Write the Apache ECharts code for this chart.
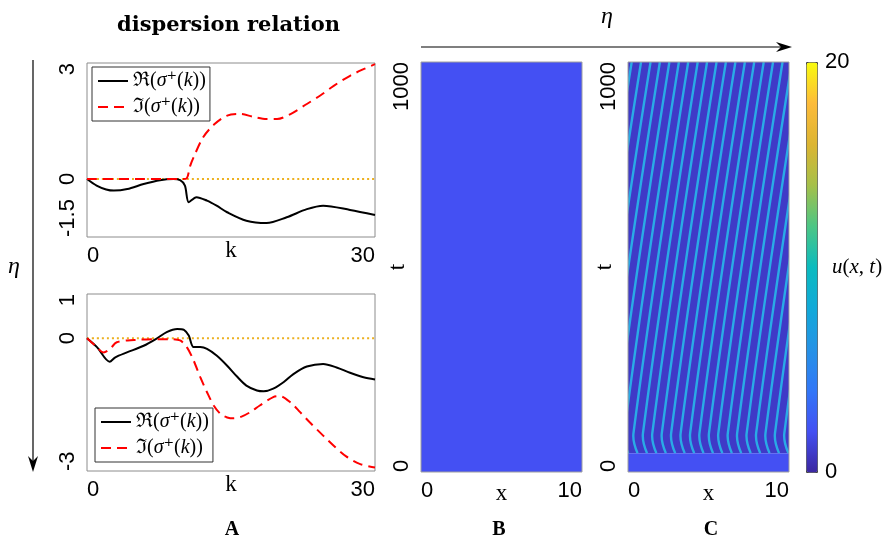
<!DOCTYPE html>
<html>
<head>
<meta charset="utf-8">
<script src="https://cdn.jsdelivr.net/npm/echarts@6/dist/echarts.min.js"></script>
<style>
  html, body { margin: 0; padding: 0; background: #fff; }
  #chart { width: 896px; height: 544px; }
</style>
</head>
<body>
<div id="chart"></div>
<script>
// dispersion relation, top panel
const kTopRe = [0, 1, 2, 2.8, 4.2, 5.9, 7.6, 9, 9.7, 10.2, 10.6, 11.4, 12.5, 13.5, 14.6, 16.6, 18.7, 20.8, 22.9, 24.6, 27.4, 30];
const reTop = [0, -0.17, -0.27, -0.30, -0.26, -0.13, -0.03, 0, -0.03, -0.17, -0.6, -0.47, -0.56, -0.69, -0.86, -1.08, -1.14, -0.99, -0.78, -0.69, -0.8, -0.93];
const kTopIm = [0, 5, 10, 10.4, 10.75, 11.1, 12.1, 13.2, 14.6, 16, 17.3, 18.7, 19.8, 21.2, 22.9, 24.3, 25.7, 27.4, 28.8, 30];
const imTop = [0, 0, 0, 0.02, 0.34, 0.56, 1.08, 1.4, 1.64, 1.68, 1.61, 1.55, 1.55, 1.68, 1.94, 2.16, 2.41, 2.67, 2.84, 2.97];

// dispersion relation, bottom panel
const kBotRe = [0, 1.04, 2.36, 2.95, 4.16, 5.9, 7.3, 8.3, 9.4, 10.1, 10.6, 11.1, 11.8, 12.5, 13.5, 14.6, 15.6, 16.6, 17.7, 18.4, 19.4, 20.5, 21.5, 22.9, 24.6, 26, 27.4, 28.8, 30];
const reBot = [0, -0.2, -0.53, -0.43, -0.32, -0.17, 0, 0.14, 0.21, 0.19, 0.06, -0.2, -0.2, -0.24, -0.39, -0.62, -0.86, -1.07, -1.18, -1.2, -1.14, -0.99, -0.81, -0.64, -0.58, -0.66, -0.78, -0.88, -0.93];
const kBotIm = [0, 0.87, 1.73, 2.4, 3.1, 4.9, 7.3, 8.7, 9.7, 10.4, 11.1, 11.8, 12.5, 13.2, 13.9, 14.6, 15.3, 16.1, 17, 18, 19.4, 20.1, 21.2, 22.2, 23.2, 24.6, 25.7, 27, 28.4, 30];
const imBot = [0, -0.17, -0.32, -0.24, -0.09, -0.04, -0.02, -0.02, -0.05, -0.2, -0.5, -0.88, -1.22, -1.52, -1.71, -1.79, -1.81, -1.77, -1.67, -1.52, -1.33, -1.31, -1.45, -1.67, -1.9, -2.2, -2.43, -2.67, -2.84, -2.92];

const zeroK = [0, 30];
const zeroV = [0, 0];

// space-time plots: [x0, t0, x1, t1, u]
const fieldB = [[0, 0, 10, 1000, 2.0]];
const fieldC = [[0, 46, 10, 1000, 0.95], [0, 0, 10, 46, 2.0]];

// travelling stripes in C (x at t = 46, 95, 1000)
const stripeT = [46, 95, 1000];
const stripeFoot = [-2.92, -2.34, -1.75, -1.17, -0.58, 0.01, 0.59, 1.18, 1.76, 2.35, 2.93, 3.52, 4.11, 4.69, 5.28, 5.86, 6.45, 7.03, 7.62, 8.21, 8.79, 9.38, 9.96, 10.55];
const stripeBase = [-3.17, -2.59, -2.00, -1.42, -0.83, -0.24, 0.34, 0.93, 1.51, 2.10, 2.68, 3.27, 3.86, 4.44, 5.03, 5.61, 6.20, 6.78, 7.37, 7.96, 8.54, 9.13, 9.71, 10.30];
const stripeTop = [0.23, 0.81, 1.40, 1.98, 2.57, 3.16, 3.74, 4.33, 4.91, 5.50, 6.08, 6.67, 7.26, 7.84, 8.43, 9.01, 9.60, 10.18, 10.77, 11.36, 11.94, 12.53, 13.11, 13.70];

const parula = ['#3b27a0', '#4450f3', '#3277f7', '#2592e6', '#11a9d9', '#0bbbbf', '#4cc685', '#a5c04a', '#dcb532', '#fdbb3a', '#f9fb0e'];

const sans = '"Liberation Sans", Arial, sans-serif';
const serif = '"Liberation Serif", "DejaVu Serif", serif';

const zip = (a, b) => a.map((v, i) => [v, b[i]]);

const chart = echarts.init(document.getElementById('chart'), null, { renderer: 'canvas' });

const gridBox = { show: true, borderColor: '#8c8c8c', borderWidth: 1, backgroundColor: 'transparent', outerBoundsMode: 'none' };

const tickLabel = (vals, rotate) => ({
  customValues: vals,
  rotate: rotate,
  fontSize: 22,
  fontFamily: sans,
  color: '#000',
  margin: 8,
  alignMinLabel: 'left',
  alignMaxLabel: 'right',
  formatter: v => String(v)
});

const hide = { axisLine: { show: false }, axisTick: { show: false }, splitLine: { show: false } };

const xAxisOf = (grid, max, vals, name, gap) => Object.assign({
  gridIndex: grid, type: 'value', min: 0, max: max,
  name: name, nameLocation: 'middle', nameGap: gap, nameMoveOverlap: false,
  nameTextStyle: { fontFamily: serif, fontSize: 23, color: '#000', verticalAlign: 'top' },
  axisLabel: tickLabel(vals, 0)
}, hide);

const yAxisOf = (grid, min, max, vals, name) => Object.assign({
  gridIndex: grid, type: 'value', min: min, max: max,
  name: name, nameLocation: 'middle', nameGap: 12, nameMoveOverlap: false,
  nameTextStyle: { fontFamily: serif, fontSize: 23, color: '#000' },
  axisLabel: tickLabel(vals, 90)
}, hide);

const legendText = name => name === 're'
  ? '{a|ℜ(}{i|σ}{a|⁺(}{i|k}{a|))}'
  : '{a|ℑ(}{i|σ}{a|⁺(}{i|k}{a|))}';

const legendOf = (left, top) => ({
  data: ['re', 'im'],
  orient: 'vertical',
  left: left, top: top,
  itemWidth: 30, itemHeight: 14, itemGap: 6,
  padding: [4, 4, 4, 5],
  backgroundColor: '#fff',
  borderColor: '#333',
  borderWidth: 1,
  borderRadius: 0,
  selectedMode: false,
  itemStyle: { color: 'transparent', borderWidth: 0, opacity: 0 },
  formatter: legendText,
  textStyle: {
    rich: {
      a: { fontFamily: serif, fontSize: 20, color: '#000' },
      i: { fontFamily: serif, fontSize: 20, fontStyle: 'italic', color: '#000' }
    }
  }
});

const reStyle = { color: '#000', width: 2 };
const imStyle = { color: '#ff0000', width: 2, type: [10, 6] };
const zeroStyle = { color: '#edb120', width: 2, type: [2, 3] };

const curve = (name, grid, data, style, z) => ({
  name: name, type: 'line', xAxisIndex: grid, yAxisIndex: grid,
  data: data, showSymbol: false, symbol: 'none', smooth: 0.3,
  lineStyle: style, itemStyle: { color: style.color }, z: z, silent: true
});

const rectItem = (params, api) => {
  const p0 = api.coord([api.value(0), api.value(1)]);
  const p1 = api.coord([api.value(2), api.value(3)]);
  return {
    type: 'rect',
    shape: { x: p0[0], y: p1[1], width: p1[0] - p0[0], height: p0[1] - p1[1] },
    style: { fill: api.visual('color') }
  };
};

// each stripe: [x at stripeT[0], x at stripeT[1], x at stripeT[2]]
const stripeData = stripeTop.map((top, i) => [stripeFoot[i], stripeBase[i], top]);

const stripeItem = (params, api) => ({
  type: 'polyline',
  shape: {
    points: stripeT.map((t, j) => api.coord([api.value(j), t])),
    smooth: 0.4
  },
  style: { stroke: '#2aaae6', lineWidth: 2.4, fill: null }
});

const arrowHead = (tip, dir) => {
  const [x, y] = tip;
  return dir === 'down'
    ? [[x, y], [x - 5, y - 16], [x, y - 11], [x + 5, y - 16]]
    : [[x, y], [x - 16, y - 5], [x - 11, y], [x - 16, y + 5]];
};

const option = {
  backgroundColor: '#fff',
  animation: false,
  grid: [
    Object.assign({ left: 87, top: 63, width: 288, height: 174 }, gridBox),
    Object.assign({ left: 87, top: 294, width: 288, height: 177 }, gridBox),
    Object.assign({ left: 421, top: 62, width: 161, height: 410, z: 6 }, gridBox, { borderColor: '#a0a0a0' }),
    Object.assign({ left: 628, top: 62, width: 161, height: 410, z: 6 }, gridBox, { borderColor: '#a0a0a0' }),
    Object.assign({ left: 806, top: 62, width: 11, height: 410 }, gridBox, { show: false })
  ],
  xAxis: [
    xAxisOf(0, 30, [0, 30], 'k', 2),
    xAxisOf(1, 30, [0, 30], 'k', 2),
    xAxisOf(2, 10, [0, 10], 'x', 10),
    xAxisOf(3, 10, [0, 10], 'x', 10),
    Object.assign({ gridIndex: 4, type: 'value', min: 0, max: 1, axisLabel: { show: false } }, hide)
  ],
  yAxis: [
    yAxisOf(0, -1.5, 3, [-1.5, 0, 3], ''),
    yAxisOf(1, -3, 1, [-3, 0, 1], ''),
    yAxisOf(2, 0, 1000, [0, 1000], 't'),
    yAxisOf(3, 0, 1000, [0, 1000], 't'),
    Object.assign({
      gridIndex: 4, type: 'value', min: 0, max: 20, position: 'right',
      name: '{i|u}{a|(}{i|x}{a|, }{i|t}{a|)}', nameLocation: 'middle', nameRotate: 0, nameGap: 15,
      nameMoveOverlap: false,
      nameTextStyle: {
        align: 'left',
        rich: {
          a: { fontFamily: serif, fontSize: 21, color: '#000' },
          i: { fontFamily: serif, fontSize: 21, fontStyle: 'italic', color: '#000' }
        }
      },
      axisLabel: { customValues: [0, 20], fontSize: 22, fontFamily: sans, color: '#000', margin: 8 }
    }, hide)
  ],
  legend: [legendOf(92, 67), legendOf(95, 408)],
  visualMap: {
    type: 'continuous',
    min: 0, max: 20,
    dimension: 4,
    seriesIndex: [6, 7],
    left: 806, top: 62,
    itemWidth: 11, itemHeight: 410,
    padding: 0,
    calculable: false,
    hoverLink: false,
    text: null,
    borderColor: '#444',
    borderWidth: 1,
    inRange: { color: parula }
  },
  series: [
    curve('zero', 0, zip(zeroK, zeroV), zeroStyle, 3),
    curve('re', 0, zip(kTopRe, reTop), reStyle, 4),
    curve('im', 0, zip(kTopIm, imTop), imStyle, 5),
    curve('zero', 1, zip(zeroK, zeroV), zeroStyle, 3),
    curve('re', 1, zip(kBotRe, reBot), reStyle, 4),
    curve('im', 1, zip(kBotIm, imBot), imStyle, 5),
    {
      type: 'custom', xAxisIndex: 2, yAxisIndex: 2, data: fieldB,
      encode: { x: [0, 2], y: [1, 3] }, renderItem: rectItem, silent: true, z: 1
    },
    {
      type: 'custom', xAxisIndex: 3, yAxisIndex: 3, data: fieldC,
      encode: { x: [0, 2], y: [1, 3] }, renderItem: rectItem, silent: true, z: 1
    },
    {
      type: 'custom', xAxisIndex: 3, yAxisIndex: 3, data: stripeData,
      encode: { x: [0, 1, 2] }, renderItem: stripeItem, clip: true, silent: true, z: 2
    }
  ],
  graphic: [
    { type: 'text', left: 117, top: 15, style: { text: 'dispersion relation', font: 'bold 21px "DejaVu Serif", serif', fill: '#000' } },
    { type: 'text', x: 607, y: 17, style: { text: 'η', font: 'italic 24px ' + serif, fill: '#000', align: 'center', verticalAlign: 'middle' } },
    { type: 'line', shape: { x1: 421, y1: 47, x2: 782, y2: 47 }, style: { stroke: '#000', lineWidth: 1.2 } },
    { type: 'polygon', shape: { points: arrowHead([792, 47], 'right') }, style: { fill: '#000' } },
    { type: 'text', x: 14, y: 267, style: { text: 'η', font: 'italic 24px ' + serif, fill: '#000', align: 'center', verticalAlign: 'middle' } },
    { type: 'line', shape: { x1: 33, y1: 60, x2: 33, y2: 462 }, style: { stroke: '#000', lineWidth: 1.2 } },
    { type: 'polygon', shape: { points: arrowHead([33, 472], 'down') }, style: { fill: '#000' } },
    { type: 'text', x: 232, y: 530, style: { text: 'A', font: 'bold 20px ' + serif, fill: '#000', align: 'center', verticalAlign: 'middle' } },
    { type: 'text', x: 499, y: 530, style: { text: 'B', font: 'bold 20px ' + serif, fill: '#000', align: 'center', verticalAlign: 'middle' } },
    { type: 'text', x: 711, y: 530, style: { text: 'C', font: 'bold 20px ' + serif, fill: '#000', align: 'center', verticalAlign: 'middle' } }
  ]
};

chart.setOption(option);
window.addEventListener('resize', () => chart.resize());
</script>
</body>
</html>
